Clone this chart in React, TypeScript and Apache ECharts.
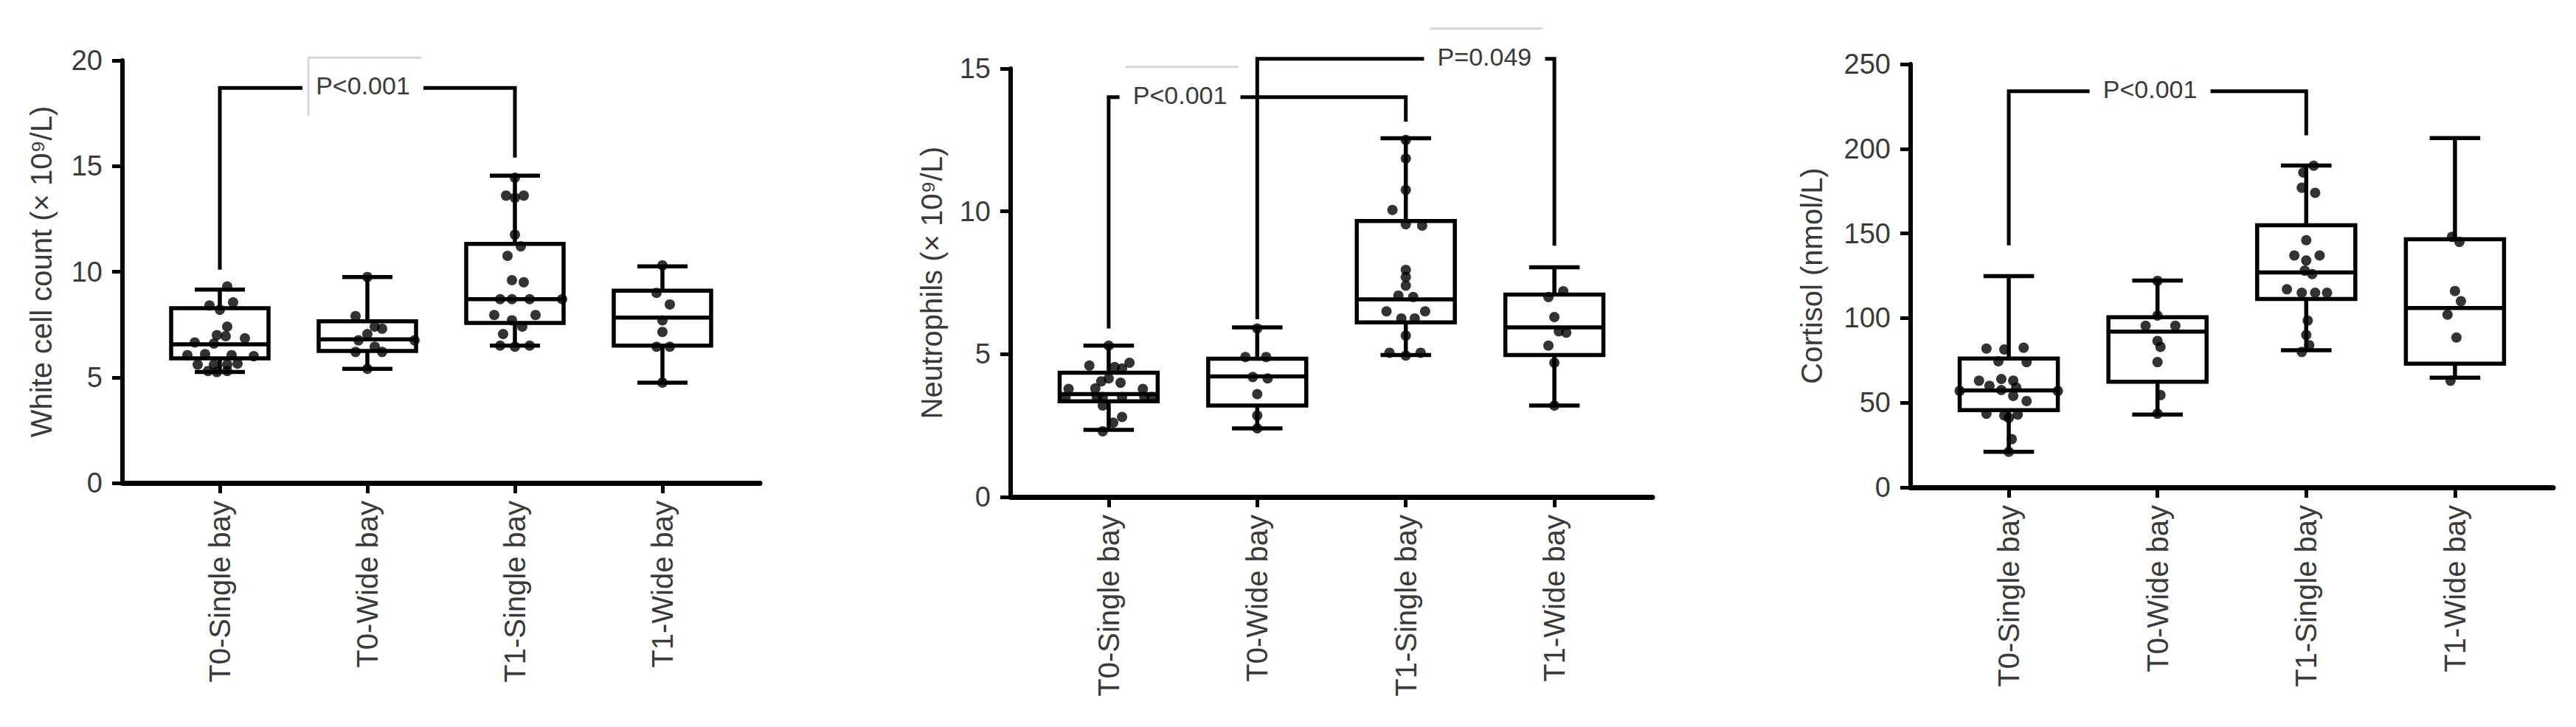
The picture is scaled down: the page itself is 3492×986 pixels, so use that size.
import React, { useEffect, useRef } from 'react';
import * as echarts from 'echarts';

const categories = ['T0-Single bay', 'T0-Wide bay', 'T1-Single bay', 'T1-Wide bay'];

// ---------- Panel 1: White cell count ----------
const wbcTitle = 'White cell count (× 10⁹/L)';
// [min, Q1, median, Q3, max]
const wbcBox = [
  [5.25, 5.9, 6.56, 8.27, 9.15],
  [5.4, 6.25, 6.8, 7.65, 9.75],
  [6.5, 7.57, 8.7, 11.32, 14.55],
  [4.75, 6.5, 7.83, 9.1, 10.25],
];
// [horizontal offset within group, value]
const wbcT0Single = [[0.05, 9.3], [-0.07, 8.4], [0.09, 8.55], [0.0, 8.2], [0.05, 7.4], [-0.02, 7.0], [0.04, 6.95], [0.17, 6.85], [-0.17, 6.65], [-0.04, 6.6], [-0.22, 6.05], [-0.1, 6.1], [0.08, 6.05], [0.23, 6.0], [-0.15, 5.6], [-0.04, 5.6], [0.05, 5.6], [0.12, 5.65], [-0.08, 5.3], [-0.02, 5.25], [0.05, 5.3]];
const wbcT0Wide = [[0, 9.75], [-0.08, 7.9], [0.05, 7.4], [0.1, 7.3], [0.0, 7.05], [-0.06, 6.75], [0.32, 6.75], [0.05, 6.45], [-0.08, 6.2], [0.1, 6.2], [0.0, 5.4]];
const wbcT1Single = [[0, 14.45], [-0.06, 13.6], [0.06, 13.6], [0.0, 13.5], [0.0, 11.75], [0.04, 11.2], [-0.05, 10.75], [-0.02, 9.6], [0.06, 9.5], [-0.1, 8.7], [-0.02, 8.7], [0.1, 8.7], [0.32, 8.7], [-0.14, 7.95], [0.14, 7.95], [-0.02, 7.7], [0.05, 7.4], [-0.08, 7.05], [-0.1, 6.5], [0.0, 6.45], [0.1, 6.5]];
const wbcT1Wide = [[0, 10.3], [-0.04, 9.0], [0.05, 8.45], [0.0, 7.7], [0.0, 7.15], [-0.04, 6.45], [0.05, 6.45], [0, 4.75]];
// [fromGroup, toGroup, leftEndValue, topValue, rightEndValue, labelCentre]
const wbcBrackets = [[0, 2, 10.1, 18.7, 15.4, 0.97]];
const wbcBracketLabels = ['P<0.001'];

// ---------- Panel 2: Neutrophils ----------
const neuTitle = 'Neutrophils (× 10⁹/L)';
const neuBox = [
  [2.35, 3.35, 3.6, 4.35, 5.3],
  [2.4, 3.2, 4.22, 4.84, 5.94],
  [4.97, 6.11, 6.92, 9.66, 12.56],
  [3.2, 4.97, 5.94, 7.09, 8.04],
];
const neuT0Single = [[0, 5.3], [-0.13, 4.6], [0.14, 4.7], [0.04, 4.55], [0.09, 4.5], [-0.05, 4.05], [0.0, 4.15], [0.08, 4.0], [-0.27, 3.78], [-0.09, 3.8], [0.23, 3.78], [-0.29, 3.5], [-0.08, 3.5], [-0.04, 3.5], [0.09, 3.5], [0.24, 3.5], [0.29, 3.5], [-0.04, 3.2], [0.09, 2.8], [0.03, 2.6], [-0.04, 2.3]];
const neuT0Wide = [[0, 5.9], [-0.08, 4.9], [0.06, 4.9], [-0.03, 4.2], [0.07, 4.15], [0, 3.6], [0, 2.85], [0, 2.4]];
const neuT1Single = [[0, 12.5], [0, 11.85], [0, 10.75], [-0.09, 10.05], [0, 9.55], [0.11, 9.5], [0, 7.95], [0, 7.7], [0, 7.4], [-0.05, 7.05], [0.05, 7.0], [-0.13, 6.5], [0.13, 6.5], [-0.03, 6.25], [0.06, 6.25], [0, 5.65], [-0.11, 5.05], [0.1, 5.05], [0, 4.95]];
const neuT1Wide = [[-0.04, 7.0], [0.06, 7.2], [0, 6.3], [0.03, 5.8], [0.08, 5.75], [-0.04, 5.3], [0, 4.7], [0, 3.2]];
const neuBrackets = [[0, 2, 5.9, 14.0, 13.14, 0.48], [1, 3, 6.22, 15.34, 8.8, 2.53]];
const neuBracketLabels = ['P<0.001', 'P=0.049'];

// ---------- Panel 3: Cortisol ----------
const corTitle = 'Cortisol (nmol/L)';
const corBox = [
  [21, 45.6, 57.3, 76.1, 124.8],
  [43, 62.4, 92, 100.5, 122.2],
  [81, 111.3, 127, 154.8, 190.1],
  [64.8, 73.1, 105.9, 146.6, 206.3],
];
const corT0Single = [[-0.15, 82], [-0.03, 81.5], [0.1, 82.5], [-0.07, 74.5], [0.12, 74], [-0.2, 63], [-0.05, 64], [0.03, 63], [-0.13, 60], [0.05, 59], [-0.33, 57], [-0.05, 57.5], [0.33, 57], [0.03, 54], [0.12, 51], [-0.15, 43.5], [-0.03, 42.5], [0.06, 43], [0, 41], [0.02, 28.5], [0, 21]];
const corT0Wide = [[0, 122], [0, 101.5], [-0.08, 95.5], [0.12, 95.5], [0, 86.5], [0.02, 83], [0, 74], [0.02, 54.5], [0, 43.5]];
const corT1Single = [[0.05, 190], [-0.02, 186], [-0.03, 177], [0.06, 174], [0, 146], [-0.08, 137], [0.09, 137], [0, 134], [-0.01, 128], [0.04, 126], [-0.13, 117], [-0.03, 115], [0.06, 115], [0.14, 115], [0.01, 98.5], [0, 90], [0.02, 84], [-0.03, 80]];
const corT1Wide = [[-0.02, 148], [0.03, 145], [0, 116], [0.04, 110], [-0.05, 102], [0.01, 88.5], [-0.03, 63]];
const corBrackets = [[0, 2, 143, 234, 208, 0.95]];
const corBracketLabels = ['P<0.001'];

// ---------- layout / style ----------
const FONT = 'Liberation Sans, Arial, Helvetica, sans-serif';
const TEXT = '#3a3a3a';
const BOX_W = 0.66;
const CAP_W = 0.34;
const GAP_W = 164;
const LW = 5.5;

const panels = [
  { title: wbcTitle, box: wbcBox, groups: [wbcT0Single, wbcT0Wide, wbcT1Single, wbcT1Wide], brackets: wbcBrackets, labels: wbcBracketLabels,
    max: 20, interval: 5, grid: { left: 166, top: 82, width: 864, height: 573 }, nameGap: 110, frameTop: true, frameLeft: true },
  { title: neuTitle, box: neuBox, groups: [neuT0Single, neuT0Wide, neuT1Single, neuT1Wide], brackets: neuBrackets, labels: neuBracketLabels,
    max: 15, interval: 5, grid: { left: 1370, top: 93, width: 870, height: 581 }, nameGap: 107, frameTop: true, frameLeft: false },
  { title: corTitle, box: corBox, groups: [corT0Single, corT0Wide, corT1Single, corT1Wide], brackets: corBrackets, labels: corBracketLabels,
    max: 250, interval: 50, grid: { left: 2590, top: 87, width: 871, height: 574 }, nameGap: 134, frameTop: false, frameLeft: false },
];

function renderBox(params: any, api: any) {
  const x = api.value(0);
  const lo = api.coord([x, api.value(1)]);
  const q1 = api.coord([x, api.value(2)]);
  const md = api.coord([x, api.value(3)]);
  const q3 = api.coord([x, api.value(4)]);
  const hi = api.coord([x, api.value(5)]);
  const bw = api.size([BOX_W, 0])[0];
  const cw = api.size([CAP_W, 0])[0];
  const cx = lo[0];
  const ls = { stroke: '#000', lineWidth: LW, fill: null };
  return {
    type: 'group',
    children: [
      { type: 'line', shape: { x1: cx, y1: hi[1], x2: cx, y2: q3[1] }, style: ls },
      { type: 'line', shape: { x1: cx, y1: q1[1], x2: cx, y2: lo[1] }, style: ls },
      { type: 'line', shape: { x1: cx - cw / 2, y1: hi[1], x2: cx + cw / 2, y2: hi[1] }, style: ls },
      { type: 'line', shape: { x1: cx - cw / 2, y1: lo[1], x2: cx + cw / 2, y2: lo[1] }, style: ls },
      { type: 'rect', shape: { x: cx - bw / 2, y: q3[1], width: bw, height: q1[1] - q3[1] }, style: { stroke: '#000', lineWidth: LW, fill: 'rgba(0,0,0,0)' } },
      { type: 'line', shape: { x1: cx - bw / 2, y1: md[1], x2: cx + bw / 2, y2: md[1] }, style: ls },
    ],
  };
}

function makeBracketRenderer(labels: string[], frameTop: boolean, frameLeft: boolean) {
  return (params: any, api: any) => {
    const i = params.dataIndex;
    const a = api.value(0);
    const b = api.value(1);
    const yl = api.value(2);
    const yt = api.value(3);
    const yr = api.value(4);
    const tx = api.value(5);
    const pL = api.coord([a, yl]);
    const pLT = api.coord([a, yt]);
    const pR = api.coord([b, yr]);
    const pRT = api.coord([b, yt]);
    const pT = api.coord([tx, yt]);
    const gl = pT[0] - GAP_W / 2;
    const gr = pT[0] + GAP_W / 2;
    const ls = { stroke: '#000', lineWidth: 5, fill: null, lineJoin: 'miter' };
    const children: any[] = [
      { type: 'polyline', shape: { points: [[pL[0], pL[1]], [pLT[0], pLT[1]], [Math.max(gl, pLT[0]), pLT[1]]] }, style: ls },
      { type: 'polyline', shape: { points: [[gr, pRT[1]], [pRT[0], pRT[1]], [pR[0], pR[1]]] }, style: ls },
      { type: 'text', x: pT[0], y: pT[1] - 3, style: { text: labels[i], fontSize: 34, fontFamily: FONT, fill: TEXT, align: 'center', verticalAlign: 'middle' } },
    ];
    if (frameTop) {
      children.push({ type: 'line', shape: { x1: gl + 8, y1: pT[1] - 41, x2: gr - 3, y2: pT[1] - 41 }, style: { stroke: '#d6d6d6', lineWidth: 3 } });
    }
    if (frameLeft) {
      children.push({ type: 'line', shape: { x1: gl + 8, y1: pT[1] - 41, x2: gl + 8, y2: pT[1] + 38 }, style: { stroke: '#d6d6d6', lineWidth: 3 } });
    }
    return { type: 'group', children };
  };
}

export default function App() {
  const ref = useRef<HTMLDivElement>(null);
  useEffect(() => {
    if (!ref.current) return;
    const chart = echarts.init(ref.current, null, { renderer: 'svg' });
    const grids: any[] = [];
    const xAxes: any[] = [];
    const yAxes: any[] = [];
    const series: any[] = [];
    panels.forEach((p, k) => {
      grids.push({ ...p.grid, containLabel: false });
      xAxes.push({
        type: 'value', gridIndex: k, min: -0.66, max: 3.66,
        splitLine: { show: false },
        axisLine: { show: true, onZero: false, lineStyle: { color: '#000', width: 7 } },
        axisTick: { show: true, customValues: [0, 1, 2, 3], length: 14, lineStyle: { color: '#000', width: 5 } },
        axisLabel: {
          show: true, customValues: [0, 1, 2, 3], rotate: 90, margin: 24,
          formatter: (v: number) => categories[Math.round(v)] ?? '',
          fontSize: 40, fontFamily: FONT, color: TEXT,
        },
      });
      yAxes.push({
        type: 'value', gridIndex: k, min: 0, max: p.max, interval: p.interval,
        name: p.title, nameLocation: 'middle', nameRotate: 90, nameGap: p.nameGap,
        nameTextStyle: { fontSize: 40, fontFamily: FONT, color: TEXT, verticalAlign: 'middle' },
        splitLine: { show: false },
        axisLine: { show: true, onZero: false, lineStyle: { color: '#000', width: 6 } },
        axisTick: { show: true, length: 14, lineStyle: { color: '#000', width: 5 } },
        axisLabel: { fontSize: 38, fontFamily: FONT, color: TEXT, margin: 27 },
      });
      series.push({
        type: 'custom', xAxisIndex: k, yAxisIndex: k, silent: true, clip: false,
        renderItem: renderBox,
        encode: { x: 0, y: [1, 2, 3, 4, 5] },
        data: p.box.map((b, i) => [i, ...b]),
        z: 3,
      });
      series.push({
        type: 'scatter', xAxisIndex: k, yAxisIndex: k, silent: true,
        symbol: 'circle', symbolSize: 14,
        itemStyle: { color: '#000' },
        data: p.groups.flatMap((pts, i) => pts.map(([o, v]) => [i + o, v])),
        z: 4,
      });
      series.push({
        type: 'custom', xAxisIndex: k, yAxisIndex: k, silent: true, clip: false,
        renderItem: makeBracketRenderer(p.labels, p.frameTop, p.frameLeft),
        encode: { x: [0, 1, 5], y: [2, 3, 4] },
        data: p.brackets,
        z: 5,
      });
    });
    chart.setOption({
      animation: false,
      backgroundColor: '#fff',
      grid: grids,
      xAxis: xAxes,
      yAxis: yAxes,
      series,
    });
    return () => chart.dispose();
  }, []);
  return (
    <div
      ref={ref}
      style={{ position: 'absolute', left: 0, top: 0, width: 3492, height: 986, background: '#fff' }}
    />
  );
}
